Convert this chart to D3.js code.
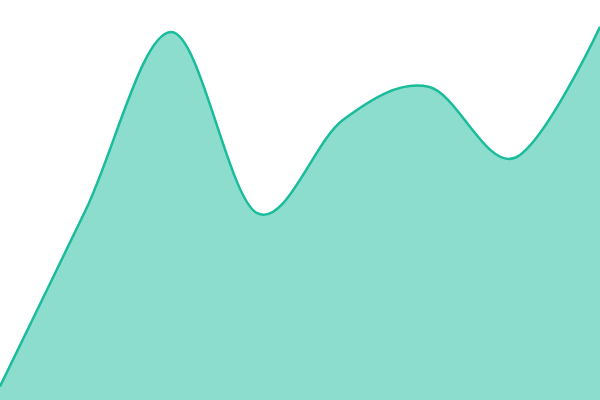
<!DOCTYPE html>
<html>
<head>
<meta charset="utf-8">
<script src="https://cdn.jsdelivr.net/npm/d3@7"></script>
<style>
html,body{margin:0;padding:0;background:#fff;overflow:hidden;}
svg{display:block;}
</style>
</head>
<body>
<script>
const categories = [0, 1, 2, 3, 4, 5, 6, 7];
const values = [3.4, 47.5, 92, 46.7, 70, 78.3, 60.5, 93.3];

const width = 600, height = 400;
const svg = d3.select("body").append("svg").attr("width", width).attr("height", height);

const x = d3.scaleLinear().domain([0, 7]).range([0, width]);
const y = d3.scaleLinear().domain([0, 100]).range([height, 0]);

const data = categories.map((c, i) => ({c, v: values[i]}));

const curve = d3.curveCardinal;

const area = d3.area()
  .x(d => x(d.c))
  .y0(height)
  .y1(d => y(d.v))
  .curve(curve);

const line = d3.line()
  .x(d => x(d.c))
  .y(d => y(d.v))
  .curve(curve);

svg.append("path").datum(data).attr("d", area).attr("fill", "#1abc9c").attr("fill-opacity", 0.5);
svg.append("path").datum(data).attr("d", line).attr("fill", "none").attr("stroke", "#1abc9c").attr("stroke-width", 2.5);
</script>
</body>
</html>
